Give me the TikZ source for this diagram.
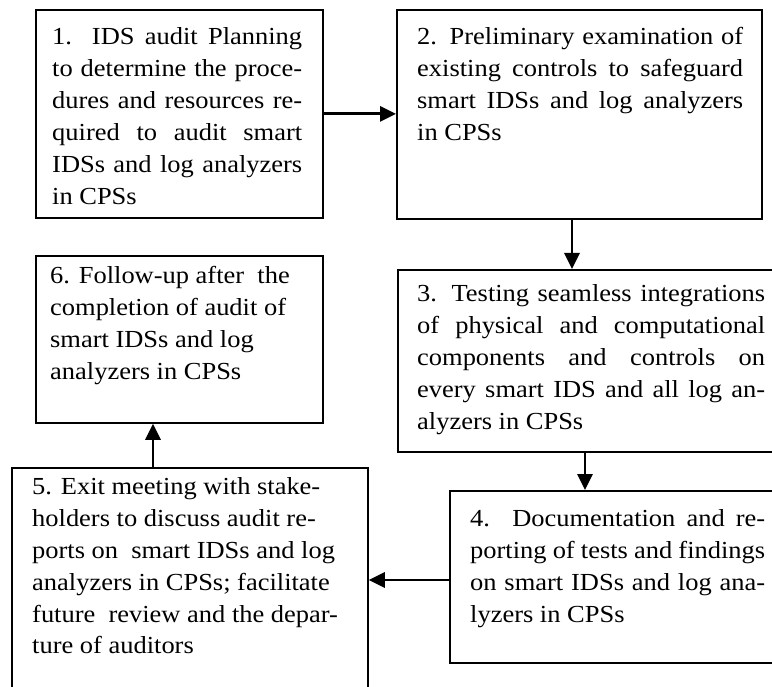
\documentclass[tikz,border=0pt]{standalone}
\usepackage{fontspec}
\setmainfont{Liberation Serif}[FakeStretch=1.08]
\usetikzlibrary{arrows.meta}

% one fully justified line of a box text
\newcommand\jl[1]{\makebox[\linewidth][s]{#1}}

\tikzset{
  box/.style={draw, line width=1.8pt, inner sep=0pt, anchor=north west},
  txt/.style={anchor=base west, inner sep=0pt, font=\fontsize{24.5}{32}\selectfont},
  flow/.style={line width=2.8pt, -{Triangle[length=16pt,width=15pt]}}
}

\begin{document}
\begin{tikzpicture}[x=1pt,y=-1pt]
  \useasboundingbox (0,0) rectangle (772,687);
  \clip (0,0) rectangle (772,687);

  % boxes
  \node[box, minimum width=287pt, minimum height=208pt] (b1) at (35,9)   {};
  \node[box, minimum width=365pt, minimum height=209pt] (b2) at (396,9)  {};
  \node[box, minimum width=400pt, minimum height=182pt] (b3) at (397,269) {};
  \node[box, minimum width=350pt, minimum height=172pt] (b4) at (449,490) {};
  \node[box, minimum width=356pt, minimum height=250pt] (b5) at (11,467)  {};
  \node[box, minimum width=287pt, minimum height=167pt] (b6) at (35,255)  {};

  % texts
  \node[txt] (t1) at (52,45) {\parbox[t]{250pt}{%
    \jl{1. IDS audit Planning}\\
    \jl{to determine the proce-}\\
    \jl{dures and resources re-}\\
    \jl{quired to audit smart}\\
    \jl{IDSs and log analyzers}\\
    in CPSs}};

  \node[txt] (t2) at (417,45) {\parbox[t]{326pt}{%
    \jl{2. Preliminary examination of}\\
    \jl{existing controls to safeguard}\\
    \jl{smart IDSs and log analyzers}\\
    in CPSs}};

  \node[txt] (t3) at (417,302) {\parbox[t]{348pt}{%
    \jl{3. Testing seamless integrations}\\
    \jl{of physical and computational}\\
    \jl{components and controls on}\\
    \jl{every smart IDS and all log an-}\\
    alyzers in CPSs}};

  \node[txt] (t4) at (470,526) {\parbox[t]{295pt}{%
    \jl{4. Documentation and re-}\\
    \jl{porting of tests and findings}\\
    \jl{on smart IDSs and log ana-}\\
    lyzers in CPSs}};

  \node[txt] (t5) at (32,494) {\parbox[t]{330pt}{\raggedright
    5. Exit meeting with stake-\\
    holders to discuss audit re-\\
    ports on\ \ smart IDSs and log\\
    analyzers in CPSs; facilitate\\
    future\ \ review and the depar-\\
    ture of auditors}};

  \node[txt] (t6) at (50,284) {\parbox[t]{270pt}{\raggedright
    6. Follow-up after\ \ the\\
    completion of audit of\\
    smart IDSs and log\\
    analyzers in CPSs}};

  % connector columns and rows
  \coordinate (c23) at (572,0);
  \coordinate (c34) at (585,0);
  \coordinate (c45) at (0,580);
  \coordinate (c56) at (153,0);

  % connectors
  \draw[flow] (b1.east) -- (b1.east -| b2.west);
  \draw[flow] (c23 |- b2.south) -- (c23 |- b3.north);
  \draw[flow] (c34 |- b3.south) -- (c34 |- b4.north);
  \draw[flow] (c45 -| b4.west) -- (c45 -| b5.east);
  \draw[flow] (c56 |- b5.north) -- (c56 |- b6.south);
\end{tikzpicture}
\end{document}
